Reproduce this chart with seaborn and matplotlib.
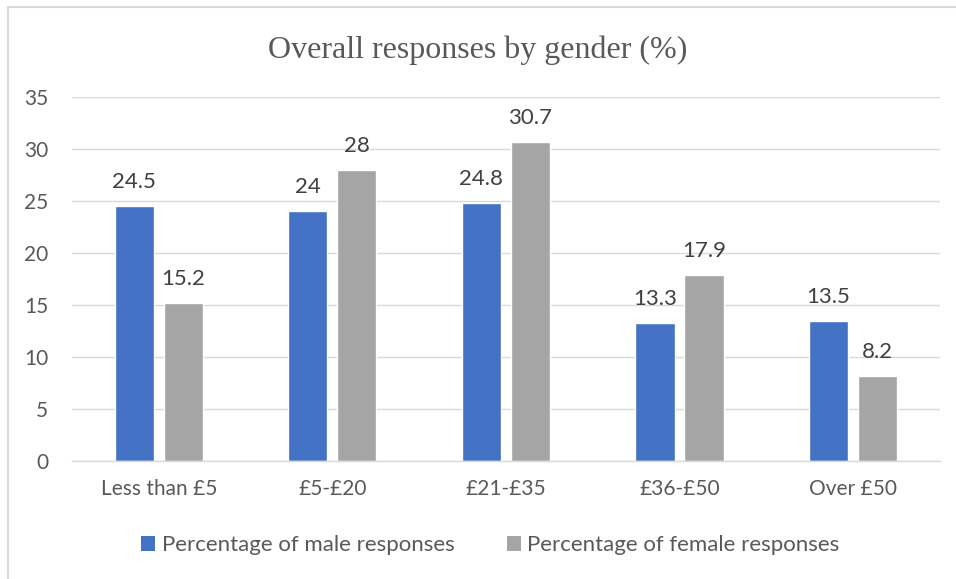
import matplotlib
matplotlib.use("Agg")
import matplotlib.pyplot as plt
import seaborn as sns
import pandas as pd
from matplotlib.patches import Patch
from matplotlib.lines import Line2D

categories = ["Less than £5", "£5-£20", "£21-£35", "£36-£50", "Over £50"]
male = [24.5, 24, 24.8, 13.3, 13.5]
female = [15.2, 28, 30.7, 17.9, 8.2]
series_names = ["Percentage of male responses", "Percentage of female responses"]
male_labels = ["24.5", "24", "24.8", "13.3", "13.5"]
female_labels = ["15.2", "28", "30.7", "17.9", "8.2"]
y_ticks = [0, 5, 10, 15, 20, 25, 30, 35]

df = pd.DataFrame({
    "cat": categories * 2,
    "val": male + female,
    "series": [series_names[0]] * 5 + [series_names[1]] * 5,
})

sns.set_theme(style="white")
plt.rcParams["font.family"] = ["Lato", "DejaVu Sans"]

fig = plt.figure(figsize=(9.56, 5.79), dpi=100)
ax = fig.add_axes([0.0753, 0.2038, 0.9077, 0.6287])

colors = ["#4472C4", "#A5A5A5"]
sns.barplot(data=df, x="cat", y="val", hue="series", order=categories,
            hue_order=series_names, palette=colors, width=0.565, gap=0.2,
            saturation=1, ax=ax, legend=False)

ax.set_ylim(0, 35)
ax.set_xlim(-0.5, 4.5)
ax.set_yticks(y_ticks)
ax.set_yticklabels([str(t) for t in y_ticks], fontsize=15, color="#595959")
ax.set_xticks(range(5))
ax.set_xticklabels(categories, fontsize=15, color="#595959")
ax.tick_params(axis="both", length=0)
ax.tick_params(axis="y", pad=17)
ax.tick_params(axis="x", pad=13)
ax.set_xlabel("")
ax.set_ylabel("")
ax.yaxis.grid(True, color="#D9D9D9", linewidth=1)
ax.set_axisbelow(True)
for s in ["top", "right", "left"]:
    ax.spines[s].set_visible(False)
ax.spines["bottom"].set_color("#D9D9D9")
ax.spines["bottom"].set_linewidth(1)

for container, labels in zip(ax.containers, [male_labels, female_labels]):
    ax.bar_label(container, labels=labels, padding=10, fontsize=16, color="#404040")

fig.text(0.5, 0.913, "Overall responses by gender (%)", ha="center", va="center",
         fontsize=23, color="#595959", family=["Liberation Serif", "DejaVu Serif"])

handles = [Patch(facecolor=c, edgecolor="none") for c in colors]
fig.legend(handles, series_names, loc="center", bbox_to_anchor=(0.513, 0.058),
           ncol=2, frameon=False, fontsize=16, handlelength=0.62, handleheight=0.62,
           handletextpad=0.3, columnspacing=2.35, labelcolor="#595959")

fig.lines.append(Line2D([8 / 956, 8 / 956, 1.0], [0.0, 1 - 7 / 579, 1 - 7 / 579],
                        transform=fig.transFigure, color="#D9D9D9", linewidth=1.5))

fig.savefig("out.png", dpi=100, facecolor="white")
